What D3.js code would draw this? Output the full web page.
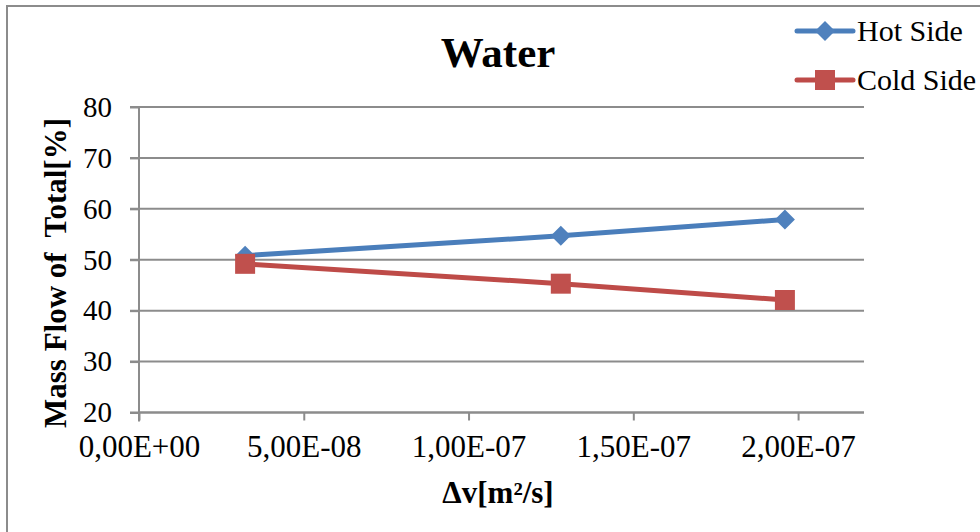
<!DOCTYPE html>
<html>
<head>
<meta charset="utf-8">
<script src="https://cdn.jsdelivr.net/npm/d3@7"></script>
<style>
  html, body { margin: 0; padding: 0; background: #fff; }
  svg { display: block; }
  text { font-family: "Liberation Serif", "Times New Roman", serif; fill: #000; }
</style>
</head>
<body>
<svg id="chart" width="980" height="532"></svg>
<script>
// ---- data ----
const xValues = [3.22e-8, 1.28e-7, 1.96e-7];
const hotSide = [50.8, 54.7, 57.9];
const coldSide = [49.2, 45.3, 42.1];
const xTicks = [0, 5e-8, 1e-7, 1.5e-7, 2e-7];
const xTickLabels = ["0,00E+00", "5,00E-08", "1,00E-07", "1,50E-07", "2,00E-07"];
const yTicks = [20, 30, 40, 50, 60, 70, 80];
const seriesNames = ["Hot Side", "Cold Side"];
const chartTitle = "Water";
const yTitle = "Mass Flow of  Total[%]";
const xTitle = "Δv[m²/s]";

const svg = d3.select("#chart");
const gridColor = "#8c8c8c";
const blueLine = "#4A7EBB", blueMark = "#4F81BD";
const redLine = "#BE4B48", redMark = "#C0504D";
const serif = "Liberation Serif";

// chart frame
svg.append("rect").attr("x", 7).attr("y", 6).attr("width", 1000).attr("height", 560)
  .attr("fill", "#fff").attr("stroke", gridColor).attr("stroke-width", 2);

const x = d3.scaleLinear().domain([0, 2.2e-7]).range([139, 864]);
const y = d3.scaleLinear().domain([20, 80]).range([412.5, 107]);

// gridlines
svg.append("g").selectAll("line").data(yTicks).join("line")
  .attr("x1", 130).attr("x2", 864)
  .attr("y1", d => y(d)).attr("y2", d => y(d))
  .attr("stroke", gridColor).attr("stroke-width", 2);

// y axis
const yAxis = svg.append("g").attr("transform", `translate(${x(0)},0)`)
  .attr("font-family", serif)
  .call(d3.axisLeft(y).tickValues(yTicks).tickSize(9).tickPadding(18).tickFormat(d3.format("d")));
yAxis.attr("font-family", serif);
yAxis.select(".domain").attr("stroke", gridColor).attr("stroke-width", 2)
  .attr("d", `M0,${y(80)}V${y(20) + 9}`);
yAxis.selectAll(".tick line").attr("stroke", gridColor).attr("stroke-width", 2);
yAxis.selectAll(".tick text").attr("font-size", 29).attr("font-family", serif).attr("fill", "#000");

// x axis
const xAxis = svg.append("g").attr("transform", `translate(0,${y(20)})`)
  .call(d3.axisBottom(x).tickValues(xTicks).tickSize(8).tickPadding(14)
    .tickFormat((d, i) => xTickLabels[i]));
xAxis.attr("font-family", serif);
xAxis.select(".domain").attr("stroke", gridColor).attr("stroke-width", 2)
  .attr("d", `M${x(0)},0H864`);
xAxis.selectAll(".tick line").attr("stroke", gridColor).attr("stroke-width", 2);
xAxis.selectAll(".tick text").attr("font-size", 31).attr("font-family", serif).attr("fill", "#000");

// series
const series = [
  { name: seriesNames[0], values: hotSide, line: blueLine, mark: blueMark, shape: "diamond" },
  { name: seriesNames[1], values: coldSide, line: redLine, mark: redMark, shape: "square" }
];
const lineGen = d3.line().x((d, i) => x(xValues[i])).y(d => y(d));
const diamond = "M0,-10L10,0L0,10L-10,0Z";
const square = "M-10,-10H10V10H-10Z";

series.forEach(s => {
  svg.append("path").datum(s.values).attr("d", lineGen)
    .attr("fill", "none").attr("stroke", s.line).attr("stroke-width", 5)
    .attr("stroke-linejoin", "round").attr("stroke-linecap", "round");
  svg.append("g").selectAll("path").data(s.values).join("path")
    .attr("transform", (d, i) => `translate(${x(xValues[i])},${y(d)})`)
    .attr("d", s.shape === "diamond" ? diamond : square)
    .attr("fill", s.mark);
});

// legend
const legY = [31, 80];
series.forEach((s, i) => {
  const g = svg.append("g").attr("transform", `translate(0,${legY[i]})`);
  g.append("line").attr("x1", 797).attr("x2", 853).attr("y1", 0).attr("y2", 0)
    .attr("stroke", s.line).attr("stroke-width", 5).attr("stroke-linecap", "round");
  g.append("path").attr("transform", "translate(825,0)")
    .attr("d", i === 0 ? diamond : square).attr("fill", s.mark);
  g.append("text").attr("x", 857).attr("y", 10).attr("font-size", 30)
    .attr("font-family", serif).text(s.name);
});

// titles
svg.append("text").attr("x", 498).attr("y", 67).attr("text-anchor", "middle")
  .attr("font-family", serif).attr("font-size", 43).attr("font-weight", "bold").text(chartTitle);
svg.append("text").attr("transform", "translate(66,273) rotate(-90)")
  .attr("font-family", serif).attr("text-anchor", "middle").attr("font-size", 31)
  .attr("font-weight", "bold").style("white-space", "pre").text(yTitle);
svg.append("text").attr("x", 498).attr("y", 503).attr("text-anchor", "middle")
  .attr("font-family", serif).attr("font-size", 31).attr("font-weight", "bold").text(xTitle);
</script>
</body>
</html>
